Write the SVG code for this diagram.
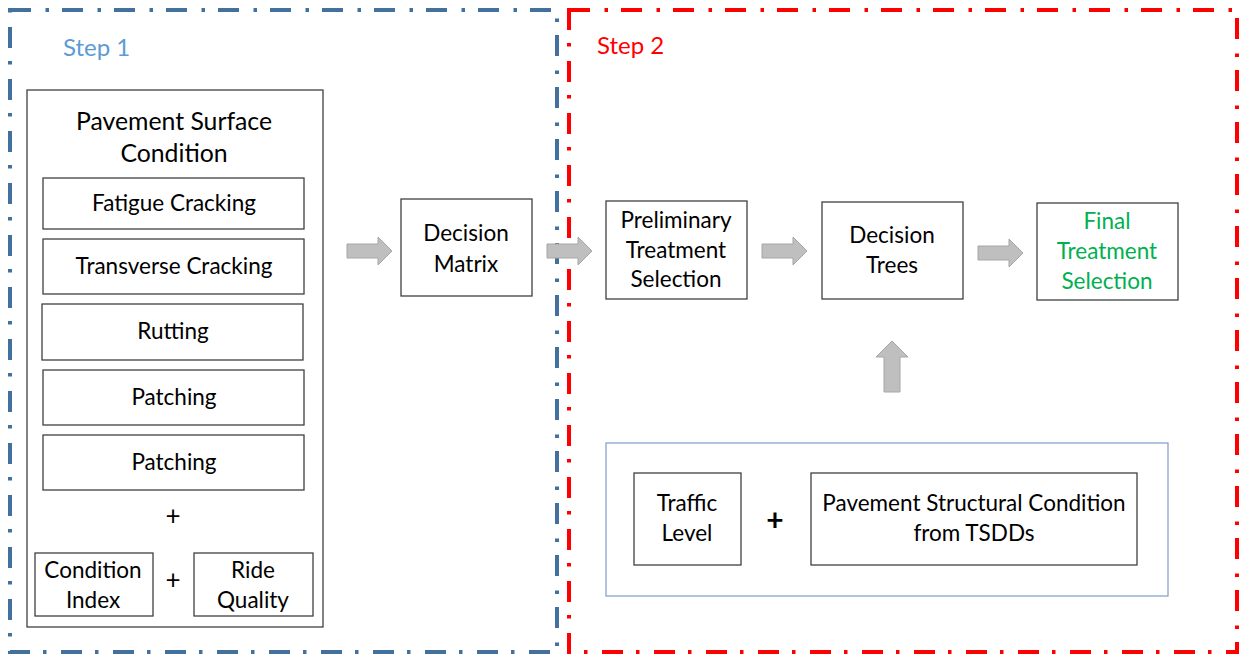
<svg xmlns="http://www.w3.org/2000/svg" width="1239" height="655" viewBox="0 0 1239 655">
  <style>
    text { font-family: Lato, "Open Sans", "Liberation Sans", sans-serif; fill: #000; text-anchor: middle; }
    .lbl { font-size: 22.5px; }
    .title { font-size: 24.8px; }
    .step { font-size: 24px; text-anchor: start; }
    .box { fill: #fff; stroke: #404040; stroke-width: 1.3; }
    .arrow { fill: #BFBFBF; stroke: #A6A6A6; stroke-width: 1; }
    .plus { font-size: 26px; }
    .frame { fill: none; stroke-width: 4; stroke-dasharray: 21 14.5 3.5 13; }
  </style>
  <defs>
    <!-- gray block arrow pointing right, 45 wide, centred on y=0 -->
    <path id="blockRight" d="M0,-7 H31 V-14 L45,0 L31,14 V7 H0 Z"/>
  </defs>

  <!-- step frames -->
  <g id="step1-frame">
    <rect x="10" y="10" width="547" height="642" class="frame" stroke="#41719C"/>
    <text x="63" y="56" class="step" style="fill:#5B9BD5">Step 1</text>
  </g>
  <g id="step2-frame">
    <rect x="569" y="10" width="668" height="642" class="frame" stroke="#FF0000"/>
    <text x="597" y="54" class="step" style="fill:#FF0000">Step 2</text>
  </g>

  <!-- pavement surface condition inputs -->
  <g id="surface-condition">
    <rect x="27" y="90" width="296" height="537" class="box"/>
    <text x="174" y="130" class="title">Pavement Surface</text>
    <text x="174" y="162" class="title">Condition</text>
  </g>
  <g id="fatigue-cracking">
    <rect x="43" y="178" width="261" height="51" class="box"/>
    <text x="174" y="211" class="lbl">Fatigue Cracking</text>
  </g>
  <g id="transverse-cracking">
    <rect x="43" y="239" width="261" height="55" class="box"/>
    <text x="174" y="274" class="lbl">Transverse Cracking</text>
  </g>
  <g id="rutting">
    <rect x="42" y="304" width="261" height="56" class="box"/>
    <text x="173" y="339" class="lbl">Rutting</text>
  </g>
  <g id="patching-1">
    <rect x="43" y="370" width="261" height="55" class="box"/>
    <text x="174" y="405" class="lbl">Patching</text>
  </g>
  <g id="patching-2">
    <rect x="43" y="435" width="261" height="55" class="box"/>
    <text x="174" y="470" class="lbl">Patching</text>
  </g>
  <text x="173" y="525" class="plus">+</text>
  <g id="condition-index">
    <rect x="35" y="553" width="118" height="63" class="box"/>
    <text x="93" y="578" class="lbl">Condition</text>
    <text x="93" y="608" class="lbl">Index</text>
  </g>
  <text x="173" y="589" class="plus">+</text>
  <g id="ride-quality">
    <rect x="194" y="553" width="119" height="63" class="box"/>
    <text x="253" y="578" class="lbl">Ride</text>
    <text x="253" y="608" class="lbl">Quality</text>
  </g>

  <!-- processing chain -->
  <g id="decision-matrix">
    <rect x="401" y="199" width="131" height="97" class="box"/>
    <text x="466" y="241" class="lbl">Decision</text>
    <text x="466" y="272" class="lbl">Matrix</text>
  </g>
  <g id="preliminary-selection">
    <rect x="606" y="201" width="141" height="98" class="box"/>
    <text x="676" y="228" class="lbl">Preliminary</text>
    <text x="676" y="258" class="lbl">Treatment</text>
    <text x="676" y="287" class="lbl">Selection</text>
  </g>
  <g id="decision-trees">
    <rect x="822" y="202" width="141" height="97" class="box"/>
    <text x="892" y="243" class="lbl">Decision</text>
    <text x="892" y="273" class="lbl">Trees</text>
  </g>
  <g id="final-selection">
    <rect x="1037" y="203" width="141" height="97" class="box"/>
    <text x="1107" y="229" class="lbl" style="fill:#00B050">Final</text>
    <text x="1107" y="259" class="lbl" style="fill:#00B050">Treatment</text>
    <text x="1107" y="289" class="lbl" style="fill:#00B050">Selection</text>
  </g>

  <!-- structural inputs -->
  <g id="structural-inputs">
    <rect x="606" y="443" width="562" height="153" fill="none" stroke="#7F9CCB" stroke-width="1.2"/>
  </g>
  <g id="traffic-level">
    <rect x="634" y="473" width="107" height="92" class="box"/>
    <text x="687" y="511" class="lbl">Traffic</text>
    <text x="687" y="541" class="lbl">Level</text>
  </g>
  <text x="775" y="531" class="plus" style="font-size:30px;font-weight:bold">+</text>
  <g id="structural-condition">
    <rect x="811" y="473" width="326" height="92" class="box"/>
    <text x="974" y="511" class="lbl">Pavement Structural Condition</text>
    <text x="974" y="541" class="lbl">from TSDDs</text>
  </g>

  <!-- connectors -->
  <g id="connectors">
    <use href="#blockRight" x="347" y="251" class="arrow"/>
    <use href="#blockRight" x="547" y="251" class="arrow"/>
    <use href="#blockRight" x="762" y="251" class="arrow"/>
    <use href="#blockRight" x="978" y="253" class="arrow"/>
    <path d="M884,392 V357 H876 L892,341 L908,357 H900 V392 Z" class="arrow"/>
  </g>
</svg>
